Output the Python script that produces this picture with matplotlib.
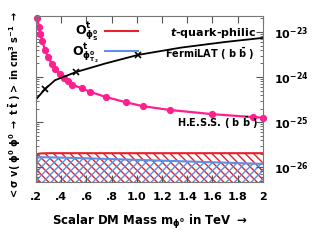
import numpy as np
import matplotlib
matplotlib.use("Agg")
import matplotlib.pyplot as plt
from matplotlib.ticker import FixedLocator, LogLocator, NullFormatter

# H.E.S.S. (b bbar) limit
hess_m = [0.208, 0.224, 0.232, 0.248, 0.271, 0.295, 0.327, 0.351, 0.390, 0.422,
          0.454, 0.485, 0.565, 0.628, 0.755, 0.914, 1.05, 1.26, 1.60, 1.92, 2.0]
hess_sv = [2.0e-23, 1.3e-23, 9.1e-24, 6.3e-24, 4.0e-24, 2.75e-24, 1.95e-24, 1.5e-24,
           1.17e-24, 9.3e-25, 8.0e-25, 6.8e-25, 5.6e-25, 4.7e-25, 3.6e-25, 2.75e-25,
           2.25e-25, 1.86e-25, 1.5e-25, 1.29e-25, 1.26e-25]

# FermiLAT (b bbar) limit
fermi_m = [0.2, 0.271, 0.35, 0.517, 0.75, 1.009, 1.35, 1.7, 2.0]
fermi_sv = [3.2e-25, 5.4e-25, 8.5e-25, 1.29e-24, 2.0e-24, 3.1e-24, 4.5e-24, 6.0e-24, 7.4e-24]
fermi_marks = [1, 3, 5]

# model curves
mass = [0.2, 0.2005, 0.203, 0.207, 0.212, 0.22, 0.24, 0.3, 0.5, 1.0, 1.5, 2.0]
sv_S = [3e-27, 9e-27, 1.5e-26, 1.8e-26, 1.93e-26, 1.99e-26, 2.02e-26, 2.04e-26,
        2.04e-26, 2.04e-26, 2.04e-26, 2.04e-26]
sv_T2 = [3e-27, 8e-27, 1.25e-26, 1.5e-26, 1.6e-26, 1.64e-26, 1.66e-26, 1.65e-26,
         1.6e-26, 1.45e-26, 1.31e-26, 1.18e-26]

xticks = [0.2, 0.4, 0.6, 0.8, 1.0, 1.2, 1.4, 1.6, 1.8, 2.0]
xticklabels = [".2", ".4", ".6", ".8", "1.0", "1.2", "1.4", "1.6", "1.8", "2"]
yticks = [1e-26, 1e-25, 1e-24, 1e-23]
yticklabels = [r"$\mathbf{10^{-26}}$", r"$\mathbf{10^{-25}}$",
               r"$\mathbf{10^{-24}}$", r"$\mathbf{10^{-23}}$"]

pink = "#ff1f8e"
red = "#e8202a"
blue = "#5b8fe8"

fig = plt.figure(figsize=(3.34, 2.5), dpi=100)
ax = fig.add_axes([0.108, 0.272, 0.679, 0.664])

bottom = 10 ** -26.33
ax.fill_between(mass, bottom, sv_S, facecolor="none", edgecolor=red,
                hatch="\\\\\\\\", linewidth=0)
ax.fill_between(mass, bottom, sv_T2, facecolor="none", edgecolor=blue,
                hatch="////", linewidth=0)
ax.plot(mass, sv_S, color=red, lw=1.5, label=r"$\mathbf{O^t_{\phi^0_S}}$")
ax.plot(mass, sv_T2, color=blue, lw=1.5, label=r"$\mathbf{O^t_{\phi^0_{T_2}}}$")

ax.plot(hess_m, hess_sv, color=pink, lw=1.6, marker="o", ms=4.2, clip_on=False)
ax.plot(fermi_m, fermi_sv, color="black", lw=1.3, marker="x", ms=5, mew=1.2,
        markevery=fermi_marks)

ax.set_yscale("log")
ax.set_xlim(0.2, 2.0)
ax.set_ylim(bottom, 10 ** -22.645)

ax.xaxis.set_major_locator(FixedLocator(xticks))
ax.set_xticklabels(xticklabels, fontsize=8, fontweight="bold")
ax.yaxis.set_major_locator(FixedLocator(yticks))
ax.yaxis.set_minor_locator(LogLocator(base=10, subs=np.arange(2, 10), numticks=10))
ax.yaxis.set_minor_formatter(NullFormatter())
ax.yaxis.tick_right()
ax.set_yticklabels(yticklabels, fontsize=8)
ax.tick_params(axis="both", which="both", direction="in", top=True, right=True,
               left=True, bottom=True, color="#555555")
ax.tick_params(axis="both", which="major", length=5, pad=7)
ax.tick_params(axis="both", which="minor", length=2.5)
ax.tick_params(axis="y", pad=8)
for s in ax.spines.values():
    s.set_color("#777777")
    s.set_linewidth(0.8)

ax.set_xlabel(r"Scalar DM Mass m$_{\mathbf{\phi^0}}$ in TeV $\mathbf{\rightarrow}$",
              fontsize=8.5, fontweight="bold", labelpad=8)
fig.text(0.045, 0.58,
         r"$\mathbf{<\sigma\ v(\ \phi^0\ \phi^0\ \rightarrow\ t\ \bar{t}\ )>\ in\ cm^3\ s^{-1}\ \rightarrow}$",
         rotation=90, fontsize=7, ha="center", va="center")

ax.text(0.97, 0.895, r"$\boldsymbol{t}$-quark-philic", transform=ax.transAxes,
        ha="right", va="center", fontsize=8, fontweight="bold")
ax.text(0.57, 0.775, r"FermiLAT ( b $\mathbf{\bar{b}}$ )", transform=ax.transAxes,
        ha="left", va="center", fontsize=7, fontweight="bold")
ax.text(0.98, 0.355, r"H.E.S.S. ( b $\mathbf{\bar{b}}$ )", transform=ax.transAxes,
        ha="right", va="center", fontsize=7, fontweight="bold")

ax.legend(loc="upper left", bbox_to_anchor=(0.11, 1.04), frameon=False,
          markerfirst=False, fontsize=9, handlelength=2.6, labelspacing=-0.15,
          handletextpad=0.5)

fig.savefig("out.png", dpi=100)
